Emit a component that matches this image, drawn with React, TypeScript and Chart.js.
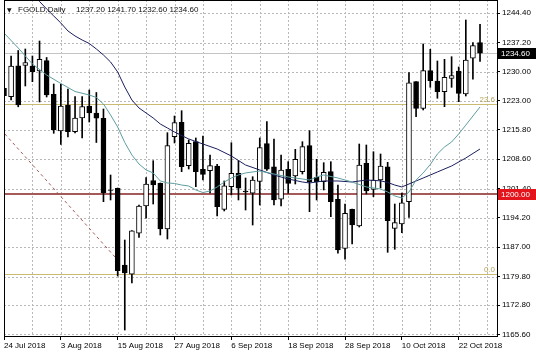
import React, { useEffect, useRef } from 'react';
import { Chart, registerables } from 'chart.js';

Chart.register(...registerables);

const SYMBOL = 'FGOLD,Daily';
const DATES = ['24 Jul 2018', '3 Aug 2018', '15 Aug 2018', '27 Aug 2018', '6 Sep 2018', '18 Sep 2018', '28 Sep 2018', '10 Oct 2018', '22 Oct 2018'];
const DATE_IDX = [0, 8, 16, 24, 32, 40, 48, 56, 64];
const GRID_X = [0, 4, 8, 12, 16, 20, 24, 28, 32, 36, 40, 44, 48, 52, 56, 60, 64, 68];
const Y_TICKS = [1165.6, 1172.8, 1179.8, 1187.0, 1194.2, 1201.4, 1208.6, 1215.8, 1223.0, 1230.0, 1237.2, 1244.4];

const OPEN = [1226.0, 1223.94, 1231.54, 1231.64, 1231.47, 1230.24, 1232.77, 1224.53, 1215.52, 1221.90,
  1215.35, 1218.71, 1221.66, 1219.94, 1218.64, 1201.05, 1201.47, 1182.65, 1180.37, 1190.43,
  1197.12, 1203.33, 1202.69, 1191.48, 1214.12, 1217.66, 1207.01, 1212.90, 1206.13, 1205.78,
  1206.94, 1196.31, 1201.86, 1205.15, 1200.80, 1200.24, 1203.13, 1212.46, 1206.76, 1198.77,
  1206.13, 1204.48, 1205.54, 1211.92, 1204.16, 1203.08, 1205.54, 1198.77, 1186.74, 1196.31,
  1192.22, 1207.60, 1201.17, 1203.50, 1206.76, 1191.65, 1192.71, 1198.18, 1227.62, 1221.09,
  1230.32, 1227.79, 1225.17, 1228.45, 1230.24, 1224.60, 1233.36, 1237.20];
const HIGH = [1229.75, 1233.92, 1235.27, 1235.64, 1233.92, 1237.60, 1233.56, 1227.05, 1227.05, 1225.83,
  1223.99, 1223.99, 1225.58, 1224.97, 1220.92, 1204.73, 1201.54, 1188.78, 1191.11, 1197.37,
  1204.12, 1208.24, 1202.77, 1215.11, 1219.20, 1220.50, 1213.32, 1213.81, 1214.30, 1209.64,
  1207.35, 1203.26, 1212.65, 1208.24, 1203.99, 1204.31, 1213.81, 1217.81, 1213.56, 1209.64,
  1207.99, 1211.03, 1212.90, 1215.60, 1208.58, 1207.75, 1207.99, 1202.27, 1197.61, 1196.39,
  1212.33, 1212.09, 1210.44, 1209.88, 1207.84, 1197.61, 1200.31, 1229.83, 1227.67, 1236.87,
  1235.57, 1232.70, 1233.11, 1233.75, 1231.23, 1242.76, 1237.19, 1241.70];
const LOW = [1217.7, 1223.13, 1221.46, 1226.56, 1227.62, 1222.64, 1223.87, 1214.96, 1212.21, 1214.05,
  1215.03, 1213.81, 1217.73, 1212.70, 1198.18, 1198.60, 1179.95, 1166.70, 1178.23, 1189.39,
  1194.11, 1197.61, 1190.01, 1189.03, 1212.58, 1205.54, 1206.20, 1201.86, 1203.50, 1200.31,
  1194.67, 1195.90, 1199.82, 1198.60, 1196.14, 1192.46, 1197.37, 1205.83, 1197.37, 1197.12,
  1200.24, 1202.52, 1204.97, 1195.72, 1198.60, 1201.05, 1194.50, 1185.52, 1184.05, 1187.80,
  1191.97, 1200.07, 1199.40, 1201.54, 1185.76, 1186.50, 1190.57, 1194.35, 1219.03, 1220.68,
  1226.24, 1223.55, 1221.49, 1226.24, 1222.71, 1224.11, 1228.21, 1232.60];
const CLOSE = [1224.2, 1231.47, 1221.90, 1232.33, 1230.07, 1233.11, 1224.36, 1215.77, 1221.66, 1215.35,
  1218.71, 1221.49, 1219.94, 1218.64, 1200.39, 1200.93, 1181.25, 1180.69, 1191.06, 1197.12,
  1202.52, 1202.27, 1191.48, 1211.92, 1217.56, 1206.76, 1212.51, 1205.54, 1204.90, 1207.01,
  1196.95, 1202.10, 1205.15, 1201.47, 1200.56, 1203.50, 1211.48, 1206.13, 1198.60, 1205.96,
  1202.69, 1208.58, 1211.67, 1203.08, 1203.08, 1205.39, 1198.18, 1186.33, 1195.33, 1192.46,
  1207.18, 1200.80, 1203.50, 1206.94, 1193.52, 1193.03, 1197.93, 1227.37, 1221.09, 1230.32,
  1227.86, 1225.17, 1228.70, 1229.09, 1224.77, 1232.94, 1236.45, 1234.60];

const FAST_X = [0, 2, 4, 6, 8, 10, 12, 13, 14, 15, 16, 17, 18, 19, 20, 21, 22, 23, 24, 25, 26, 27, 28, 29, 30, 31, 32, 33, 34, 36, 38, 40, 42, 43, 44, 45, 47, 49, 51, 53, 54, 55, 56, 57, 58, 59, 60, 61, 62, 63, 64, 65, 66, 67];
const FAST_Y = [1239.57, 1235.89, 1231.96, 1229.26, 1227.18, 1225.21, 1224.36, 1223.74, 1222.15, 1219.45,
  1216.50, 1212.70, 1209.64, 1207.43, 1205.96, 1205.23, 1203.26, 1202.77, 1202.65, 1202.27,
  1202.03, 1201.05, 1200.43, 1200.80, 1201.79, 1203.01, 1203.99, 1204.73, 1205.23, 1205.71,
  1204.97, 1204.24, 1203.75, 1203.50, 1204.24, 1204.73, 1203.99, 1203.01, 1201.79, 1201.30,
  1200.56, 1199.58, 1199.07, 1200.56, 1203.50, 1205.23, 1207.30, 1209.88, 1211.60, 1212.82,
  1214.80, 1216.97, 1219.20, 1221.41];

const SLOW_X = [2, 4, 5, 6, 7, 8, 9, 10, 11, 12, 13, 14, 15, 16, 17, 18, 19, 20, 21, 22, 23, 24, 26, 28, 30, 32, 34, 36, 38, 40, 42, 43, 45, 47, 49, 51, 53, 54, 55, 56, 57, 58, 59, 61, 63, 65, 67];
const SLOW_Y = [1251.5, 1249.0, 1247.3, 1245.45, 1243.74, 1242.02, 1240.06, 1238.83, 1237.85, 1236.99,
  1235.64, 1234.17, 1232.45, 1230.00, 1226.32, 1223.13, 1221.17, 1219.94, 1218.71, 1217.24,
  1216.26, 1215.28, 1213.56, 1212.33, 1211.11, 1209.39, 1207.18, 1205.96, 1204.73, 1203.75,
  1203.01, 1202.77, 1203.26, 1203.26, 1203.01, 1203.50, 1203.30, 1202.89, 1202.27, 1201.79,
  1202.52, 1203.26, 1203.99, 1205.47, 1206.94, 1208.90, 1211.11];

const TREND_X = [-1, 16];
const TREND_Y = [1216.98, 1183.87];

const FIB_LEVELS = [1222.07, 1180.37];
const FIB_LABELS = ['23.6', '0.0'];
const SUPPORT = 1200.0;

const FONT = "'Liberation Sans', 'DejaVu Sans', Arial, sans-serif";
const FIB_COLOR = '#c9bc72';
const FIB_TEXT = '#b5a45c';
const GRID_COLOR = '#b8b8b8';

export default function App() {
  const ref = useRef<HTMLCanvasElement>(null);

  useEffect(() => {
    const canvas = ref.current;
    if (!canvas) return;
    const idx = OPEN.map((_, i) => i);
    const last = OPEN.length - 1;

    const levelsPlugin = {
      id: 'levels',
      beforeDatasetsDraw(chart: any) {
        const { ctx, chartArea: a, scales } = chart;
        const y = scales.y;
        const x = scales.x;
        ctx.save();
        ctx.beginPath();
        ctx.rect(a.left, a.top, a.right - a.left, a.bottom - a.top);
        ctx.clip();
        // dashed grid
        ctx.strokeStyle = GRID_COLOR;
        ctx.lineWidth = 1;
        ctx.setLineDash([2, 2]);
        GRID_X.forEach((v) => {
          const px = Math.round(x.getPixelForValue(v)) + 0.5;
          ctx.beginPath();
          ctx.moveTo(px, a.top);
          ctx.lineTo(px, a.bottom);
          ctx.stroke();
        });
        Y_TICKS.forEach((v) => {
          const py = Math.round(y.getPixelForValue(v)) + 0.5;
          ctx.beginPath();
          ctx.moveTo(a.left, py);
          ctx.lineTo(a.right, py);
          ctx.stroke();
        });
        ctx.setLineDash([]);
        const hline = (v: number, color: string, w: number) => {
          const py = Math.round(y.getPixelForValue(v)) + (w % 2 ? 0.5 : 0);
          ctx.strokeStyle = color;
          ctx.lineWidth = w;
          ctx.beginPath();
          ctx.moveTo(a.left, py);
          ctx.lineTo(a.right, py);
          ctx.stroke();
        };
        hline(CLOSE[last], '#c4c4c4', 1);
        FIB_LEVELS.forEach((v) => hline(v, FIB_COLOR, 1));
        hline(SUPPORT, '#a55a5a', 2);
        ctx.restore();
      },
      afterDraw(chart: any) {
        const { ctx, chartArea: a, scales } = chart;
        const y = scales.y;
        const W = chart.width;
        ctx.save();
        ctx.font = `8px ${FONT}`;
        ctx.fillStyle = FIB_TEXT;
        ctx.textAlign = 'right';
        ctx.textBaseline = 'alphabetic';
        FIB_LEVELS.forEach((v, k) => {
          ctx.fillText(FIB_LABELS[k], a.right - 2, y.getPixelForValue(v) - 2.5);
        });
        const box = (v: number, bg: string) => {
          const py = y.getPixelForValue(v);
          ctx.fillStyle = bg;
          ctx.fillRect(a.right + 1, Math.round(py - 5.5), W - a.right - 1, 11);
          ctx.fillStyle = '#ffffff';
          ctx.textAlign = 'left';
          ctx.textBaseline = 'middle';
          ctx.fillText(v.toFixed(2), a.right + 4, py + 0.5);
        };
        box(CLOSE[last], '#000000');
        box(SUPPORT, '#e3141c');
        ctx.strokeStyle = '#000000';
        ctx.lineWidth = 1;
        ctx.setLineDash([]);
        ctx.strokeRect(a.left + 0.5, a.top + 0.5, a.right - a.left, a.bottom - a.top);
        ctx.fillStyle = '#111111';
        ctx.textAlign = 'left';
        ctx.textBaseline = 'middle';
        ctx.font = `6px 'DejaVu Sans', sans-serif`;
        ctx.fillText('▼', 7, 10);
        ctx.font = `8px ${FONT}`;
        ctx.fillText(SYMBOL, 18, 10);
        ctx.fillText(
          [OPEN[last], HIGH[last], LOW[last], CLOSE[last]].map((v) => v.toFixed(2)).join(' '),
          76,
          10
        );
        ctx.restore();
      },
    };

    const chart = new Chart(canvas, {
      type: 'bar',
      data: {
        datasets: [
          {
            type: 'line',
            data: TREND_X.map((x, k) => ({ x, y: TREND_Y[k] })),
            borderColor: '#a55a5a',
            borderWidth: 1,
            borderDash: [3, 3],
            pointRadius: 0,
            order: 10,
          } as any,
          {
            type: 'bar',
            data: idx.map((i) => ({ x: i, y: [LOW[i], HIGH[i]] })),
            backgroundColor: '#000000',
            borderWidth: 0,
            barThickness: 1,
            grouped: false,
            order: 6,
          } as any,
          {
            type: 'bar',
            data: idx.map((i) => ({ x: i, y: [OPEN[i], CLOSE[i]] })),
            backgroundColor: idx.map((i) => (CLOSE[i] >= OPEN[i] ? '#ffffff' : '#000000')),
            borderColor: '#000000',
            borderWidth: 1,
            borderSkipped: false,
            barThickness: 5,
            grouped: false,
            order: 5,
          } as any,
          {
            type: 'line',
            data: SLOW_X.map((x, k) => ({ x, y: SLOW_Y[k] })),
            borderColor: '#1b1f5c',
            borderWidth: 1,
            pointRadius: 0,
            tension: 0,
            order: 2,
          } as any,
          {
            type: 'line',
            data: FAST_X.map((x, k) => ({ x, y: FAST_Y[k] })),
            borderColor: '#5f9ea0',
            borderWidth: 1,
            pointRadius: 0,
            tension: 0,
            order: 1,
          } as any,
        ],
      },
      options: {
        responsive: false,
        animation: false,
        devicePixelRatio: 1,
        layout: { padding: { left: 4, top: 0, right: 0, bottom: 0 } },
        plugins: { legend: { display: false }, tooltip: { enabled: false } },
        scales: {
          x: {
            type: 'linear',
            min: 0,
            max: 69.39,
            offset: false,
            grid: {
              offset: false,
              drawOnChartArea: false,
              tickLength: 4,
              tickColor: (c: any) => (DATE_IDX.includes(c.tick?.value) ? '#000000' : 'rgba(0,0,0,0)'),
            },
            border: { display: false },
            afterBuildTicks: (scale: any) => {
              scale.ticks = GRID_X.map((v) => ({ value: v }));
            },
            afterFit: (scale: any) => {
              scale.height = 22;
              scale.paddingLeft = 0;
              scale.paddingRight = 0;
            },
            ticks: {
              autoSkip: false,
              maxRotation: 0,
              minRotation: 0,
              align: 'start',
              padding: 1,
              color: '#000000',
              font: { family: FONT, size: 8 },
              callback: (v: any) => {
                const k = DATE_IDX.indexOf(Number(v));
                return k >= 0 ? DATES[k] : '';
              },
            },
          } as any,
          y: {
            type: 'linear',
            position: 'right',
            min: 1165.23,
            max: 1247.66,
            grid: {
              drawOnChartArea: false,
              tickLength: 3,
              tickColor: '#000000',
            },
            border: { display: false },
            afterBuildTicks: (scale: any) => {
              scale.ticks = Y_TICKS.map((v) => ({ value: v }));
            },
            afterFit: (scale: any) => {
              scale.width = 39;
              scale.paddingTop = 0;
              scale.paddingBottom = 0;
            },
            ticks: {
              autoSkip: false,
              padding: 2,
              color: '#000000',
              font: { family: FONT, size: 8 },
              callback: (v: any) => Number(v).toFixed(2),
            },
          } as any,
        },
      },
      plugins: [levelsPlugin],
    });

    return () => chart.destroy();
  }, []);

  return (
    <div style={{ position: 'absolute', left: 0, top: 0, width: 536, height: 358, background: '#ffffff' }}>
      <canvas ref={ref} width={536} height={358} style={{ width: 536, height: 358, display: 'block' }} />
    </div>
  );
}
